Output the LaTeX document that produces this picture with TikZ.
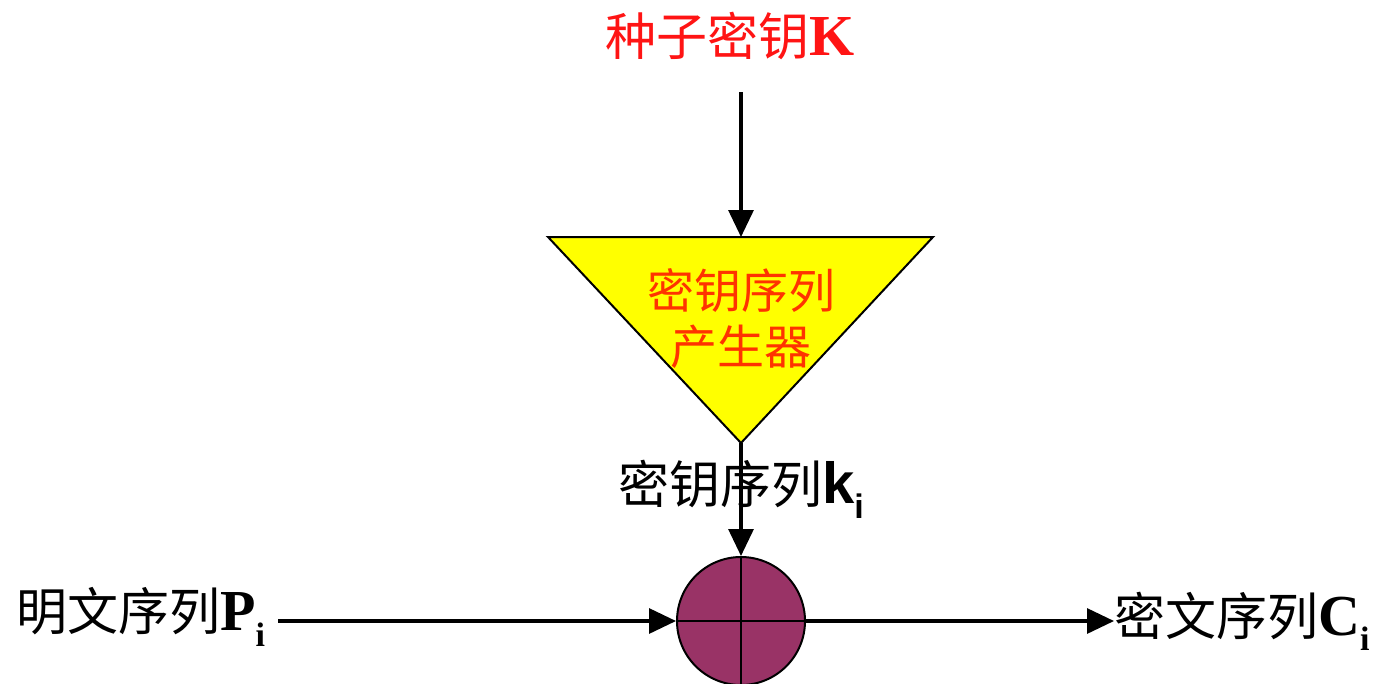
\documentclass[tikz,border=0pt]{standalone}
\usepackage{fontspec}
\usetikzlibrary{arrows.meta}
\newfontfamily\cjk{Noto Sans CJK SC}
\newfontfamily\tnr{Liberation Serif}
\newfontfamily\arl{Liberation Sans}
\definecolor{keyred}{RGB}{255,20,20}
\definecolor{genred}{RGB}{255,51,0}
\definecolor{xorfill}{RGB}{153,51,102}
\definecolor{triyellow}{RGB}{255,255,0}
\newcommand{\sbi}[1]{\raisebox{-0.3em}{\fontsize{34}{34}\selectfont #1}}
\newcommand{\biglat}[1]{{\fontsize{58}{60}\selectfont #1}}
\begin{document}
\begin{tikzpicture}[x=1pt,y=-1pt,
  lbl/.style={inner sep=0pt, font=\cjk\fontsize{51}{58}\selectfont},
  conn/.style={line width=3.2pt, -{Triangle[length=27pt,width=25pt]}},
]
\useasboundingbox[fill=white] (0,0) rectangle (1382,683);
% seed key
\node[lbl, text=keyred, anchor=west] (seed) at (605,36) {种子密钥{\tnr\bfseries\biglat{K}}};
\coordinate (seedout) at (741,92);
% triangle generator
\coordinate (tl) at (548,237);
\coordinate (tr) at (933,237);
\coordinate (apex) at (741,443);
\coordinate (gentop) at (741,237);
\draw[line width=2pt, fill=triyellow, line join=miter] (tl) -- (tr) -- (apex) -- cycle;
\node[lbl, text=genred, font=\cjk\fontsize{47}{54}\selectfont, align=center] (gen) at (741,319)
  {密钥序列\\[2pt]产生器};
% xor
\node[circle, draw, line width=2pt, fill=xorfill, minimum size=128pt, inner sep=0pt] (xor) at (741,621) {};
\draw[line width=2pt] (xor.north) -- (xor.south);
\draw[line width=2pt] (xor.west) -- (xor.east);
% labels
\node[lbl, anchor=west] (ks) at (618,489) {密钥序列{\arl\bfseries\biglat{k}\sbi{i}}};
\node[lbl, anchor=west] (pt) at (16,617) {明文序列{\tnr\bfseries\biglat{P}\sbi{i}}};
\coordinate (ptout) at (278,621);
\node[lbl, anchor=west] (ct) at (1114,621) {密文序列{\tnr\bfseries\biglat{C}\sbi{i}}};
% connectors
\draw[conn] (seedout) -- (gentop);
\draw[conn] (apex) -- (xor.north);
\draw[conn] (ptout) -- (xor.west);
\draw[conn] (xor.east) -- (ct.west);
\end{tikzpicture}
\end{document}
